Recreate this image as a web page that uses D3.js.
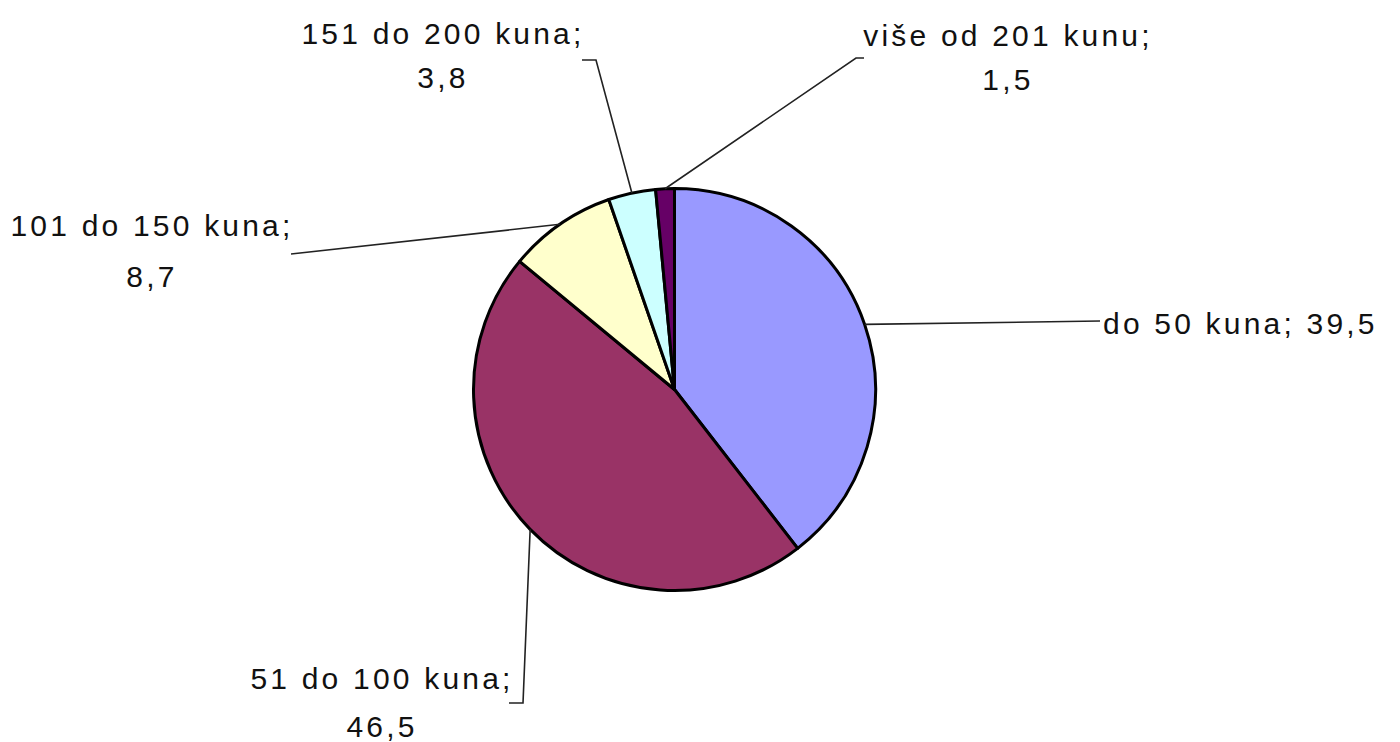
<!DOCTYPE html>
<html>
<head>
<meta charset="utf-8">
<script src="https://cdn.jsdelivr.net/npm/d3@7"></script>
<style>
  html, body { margin: 0; padding: 0; background: #fff; }
  svg { display: block; }
  text { font-family: "Liberation Sans", Arial, sans-serif; font-size: 30px; fill: #111; letter-spacing: 3.2px; }
</style>
</head>
<body>
<svg id="chart" width="1400" height="742"></svg>
<script>
// ---- data ----
const categories = ["do 50 kuna", "51 do 100 kuna", "101 do 150 kuna", "151 do 200 kuna", "više od 201 kunu"];
const values = [39.5, 46.5, 8.7, 3.8, 1.5];
const valueLabels = ["39,5", "46,5", "8,7", "3,8", "1,5"];
const colors = ["#9999FF", "#993366", "#FFFFCC", "#CCFFFF", "#660066"];

// ---- layout (label placement) ----
const labelLayout = [
  { lines: 1, x: 1103, y: 334, anchor: "start", path: [[1100, 321]] },
  { lines: 2, x: 382, y: 689, anchor: "middle", dy: 48, path: [[523, 703], [509, 703]] },
  { lines: 2, x: 152, y: 236, anchor: "middle", dy: 51, path: [[291, 254]] },
  { lines: 2, x: 443, y: 44, anchor: "middle", dy: 44, path: [[596, 60], [582, 60]] },
  { lines: 2, x: 1008, y: 46, anchor: "middle", dy: 44, path: [[856, 58], [864, 58]] }
];

const cx = 674.5, cy = 389.5, r = 201;
const svg = d3.select("#chart");
const g = svg.append("g").attr("transform", `translate(${cx},${cy})`);

const pie = d3.pie().sort(null).value(d => d)(values);
const arc = d3.arc().innerRadius(0).outerRadius(r);
const edge = d3.arc().innerRadius(r).outerRadius(r);

// leader lines
const lineGen = d3.line();
pie.forEach((p, i) => {
  const c = edge.centroid(p);
  const pts = [[cx + c[0], cy + c[1]]].concat(labelLayout[i].path);
  svg.append("path")
    .attr("d", lineGen(pts))
    .attr("fill", "none")
    .attr("stroke", "#222")
    .attr("stroke-width", 1.6);
});

// slices
g.selectAll("path.slice")
  .data(pie)
  .join("path")
  .attr("class", "slice")
  .attr("d", arc)
  .attr("fill", (d, i) => colors[i])
  .attr("stroke", "#000")
  .attr("stroke-width", 3)
  .attr("stroke-linejoin", "round");

// labels
labelLayout.forEach((L, i) => {
  const t = svg.append("text")
    .attr("x", L.x).attr("y", L.y)
    .attr("text-anchor", L.anchor);
  if (L.lines === 1) {
    t.text(categories[i] + "; " + valueLabels[i]);
  } else {
    t.append("tspan").attr("x", L.x).attr("y", L.y).text(categories[i] + ";");
    t.append("tspan").attr("x", L.x).attr("y", L.y + L.dy).text(valueLabels[i]);
  }
});
</script>
</body>
</html>
